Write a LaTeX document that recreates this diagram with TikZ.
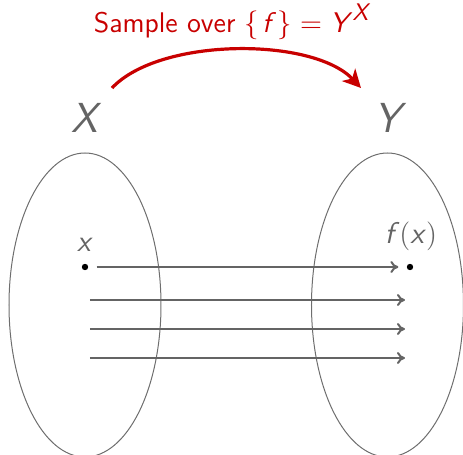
\documentclass[tikz,border=0pt]{standalone}
\usepackage{amsmath}
\usepackage{fontspec}
\usetikzlibrary{arrows.meta,shapes.geometric}
\definecolor{dgray}{RGB}{100,100,100}
\definecolor{lgray}{RGB}{110,110,110}
\definecolor{bred}{RGB}{200,0,0}
\begin{document}
\begin{tikzpicture}[x=0.5pt,y=-0.5pt,
  setline/.style={draw=lgray,line width=0.5pt,ellipse,inner sep=0pt,minimum width=76pt,minimum height=152pt},
  maparrow/.style={draw=dgray,line width=1pt,-{To[length=4pt,width=6pt]}},
  dotnode/.style={circle,fill=black,inner sep=0pt,minimum size=3.2pt},
  biglabel/.style={text=dgray,font=\sffamily\itshape\fontsize{21}{25}\selectfont},
  smalllabel/.style={text=dgray,font=\sffamily\fontsize{15}{18}\selectfont},
  titlelabel/.style={text=bred,font=\sffamily\fontsize{14.2}{17}\selectfont}]
\useasboundingbox (0,0) rectangle (463,455);
\clip (0,0) rectangle (463,455);
% title
\node[titlelabel] (title) at (231.5,22) {Sample over $\{\mkern2mu\textit{f\/}\mkern1mu\} = \textit{Y\/}^{\text{\fontsize{12}{14}\selectfont\itshape X}}$};
\coordinate (arcA) at (112,88);
\coordinate (arcB) at (361,88);
\draw[bred,line width=1.6pt,-{Stealth[length=9pt,width=9pt,inset=2.5pt]}] (arcA) .. controls (160,37) and (313,37) .. (arcB);
% set labels
\node[biglabel] (X) at (85,118) {X};
\node[biglabel] (Y) at (388,118) {Y};
% ellipses
\node[setline] (setX) at (85,305) {};
\node[setline] (setY) at (387.5,305) {};
% points
\node[dotnode] (xd) at (85,267) {};
\node[dotnode] (fxd) at (410,267) {};
\node[smalllabel,anchor=base] (xl) at (85,252) {\textit{x}};
\node[smalllabel,anchor=base] (fxl) at (411,244) {\textit{f}$($\textit{x}$)$};
\draw[maparrow,shorten <=4pt,shorten >=4pt] (xd) -- (fxd);
\coordinate (a1) at (90,300); \coordinate (b1) at (405,300);
\coordinate (a2) at (90,329); \coordinate (b2) at (405,329);
\coordinate (a3) at (90,358); \coordinate (b3) at (405,358);
\draw[maparrow] (a1) -- (b1);
\draw[maparrow] (a2) -- (b2);
\draw[maparrow] (a3) -- (b3);
\end{tikzpicture}
\end{document}
